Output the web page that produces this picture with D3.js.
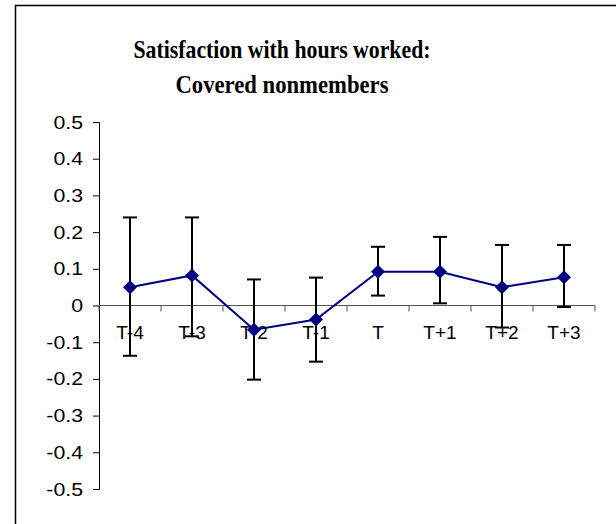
<!DOCTYPE html>
<html>
<head>
<meta charset="utf-8">
<script src="https://cdn.jsdelivr.net/npm/d3@7"></script>
<style>
  body { margin: 0; background: #fff; }
  svg { display: block; }
</style>
</head>
<body>
<svg id="chart" width="616" height="524"></svg>
<script>
'use strict'

// ------ data ------
var periods = ['T-4', 'T-3', 'T-2', 'T-1', 'T', 'T+1', 'T+2', 'T+3']
var estimate = [0.050, 0.082, -0.066, -0.038, 0.092, 0.092, 0.050, 0.077]
var upper = [0.240, 0.240, 0.071, 0.076, 0.160, 0.187, 0.165, 0.165]
var lower = [-0.137, -0.084, -0.202, -0.153, 0.027, 0.006, -0.060, -0.004]
var yTicks = [0.5, 0.4, 0.3, 0.2, 0.1, 0, -0.1, -0.2, -0.3, -0.4, -0.5]

var svg = d3.select('#chart')

// chart frame
svg.append('rect')
  .attr('x', 15.5).attr('y', 5.5)
  .attr('width', 640).attr('height', 560)
  .attr('fill', 'none').attr('stroke', '#000').attr('stroke-width', 1.5)

// title (the original font is a tall, narrow Times bold)
var title = svg.append('text')
  .attr('text-anchor', 'middle')
  .attr('font-family', 'Liberation Serif, Times New Roman, serif')
  .attr('font-weight', 'bold')
  .attr('font-size', 25)
title.append('tspan').attr('x', 282).attr('y', 58)
  .attr('textLength', 297).attr('lengthAdjust', 'spacingAndGlyphs')
  .text('Satisfaction with hours worked:')
title.append('tspan').attr('x', 282).attr('y', 93)
  .attr('textLength', 213).attr('lengthAdjust', 'spacingAndGlyphs')
  .text('Covered nonmembers')

// ------ scales ------
var x = d3.scaleBand().domain(periods).range([99, 595])
var y = d3.scaleLinear().domain([-0.5, 0.5]).range([489, 122])
var cx = function (d) { return x(d) + x.bandwidth() / 2 }
var fmt = function (d) { return d === 0 ? '0' : d3.format('.1f')(d).replace('\u2212', '-') }

// ------ y axis ------
var yAxis = svg.append('g')
  .attr('transform', 'translate(99,0)')
  .call(d3.axisLeft(y).tickValues(yTicks).tickSize(6).tickPadding(10).tickFormat(fmt))
yAxis.select('.domain').attr('stroke', '#000').attr('stroke-width', 1)
yAxis.selectAll('text')
  .attr('font-family', 'Arial, Liberation Sans, sans-serif')
  .attr('font-size', 19).attr('fill', '#000')
  .each(function () {
    // the reference labels are a little wider than the font gives
    var w = this.getComputedTextLength()
    d3.select(this).attr('textLength', w * 1.12).attr('lengthAdjust', 'spacingAndGlyphs')
  })

// ------ x axis at zero ------
var xAxis = svg.append('g')
  .attr('transform', 'translate(0,' + y(0) + ')')
xAxis.append('line')
  .attr('x1', 99).attr('x2', 595)
  .attr('stroke', '#555').attr('stroke-width', 1)
xAxis.selectAll('line.tick')
  .data(periods.concat(['end']))
  .enter().append('line')
  .attr('class', 'tick')
  .attr('x1', function (d, i) { return 99 + i * x.step() })
  .attr('x2', function (d, i) { return 99 + i * x.step() })
  .attr('y1', 0).attr('y2', 6)
  .attr('stroke', '#555')
xAxis.selectAll('text')
  .data(periods)
  .enter().append('text')
  .attr('x', cx)
  .attr('y', 33)
  .attr('text-anchor', 'middle')
  .attr('font-family', 'Arial, Liberation Sans, sans-serif')
  .attr('font-size', 19)
  .text(function (d) { return d })

// ------ error bars ------
var bars = svg.append('g')
  .attr('stroke', '#000').attr('stroke-width', 2)
periods.forEach(function (p, i) {
  bars.append('line')
    .attr('x1', cx(p)).attr('x2', cx(p))
    .attr('y1', y(upper[i])).attr('y2', y(lower[i]))
  bars.append('line')
    .attr('x1', cx(p) - 7).attr('x2', cx(p) + 7)
    .attr('y1', y(upper[i])).attr('y2', y(upper[i]))
  bars.append('line')
    .attr('x1', cx(p) - 7).attr('x2', cx(p) + 7)
    .attr('y1', y(lower[i])).attr('y2', y(lower[i]))
})

// ------ series line and markers ------
var line = d3.line()
  .x(function (d, i) { return cx(periods[i]) })
  .y(function (d) { return y(d) })

svg.append('path')
  .datum(estimate)
  .attr('d', line)
  .attr('fill', 'none')
  .attr('stroke', '#000080')
  .attr('stroke-width', 2)

svg.selectAll('path.marker')
  .data(estimate)
  .enter().append('path')
  .attr('class', 'marker')
  .attr('d', 'M0,-7L7,0L0,7L-7,0Z')
  .attr('transform', function (d, i) { return 'translate(' + cx(periods[i]) + ',' + y(d) + ')' })
  .attr('fill', '#000080')
</script>
</body>
</html>
